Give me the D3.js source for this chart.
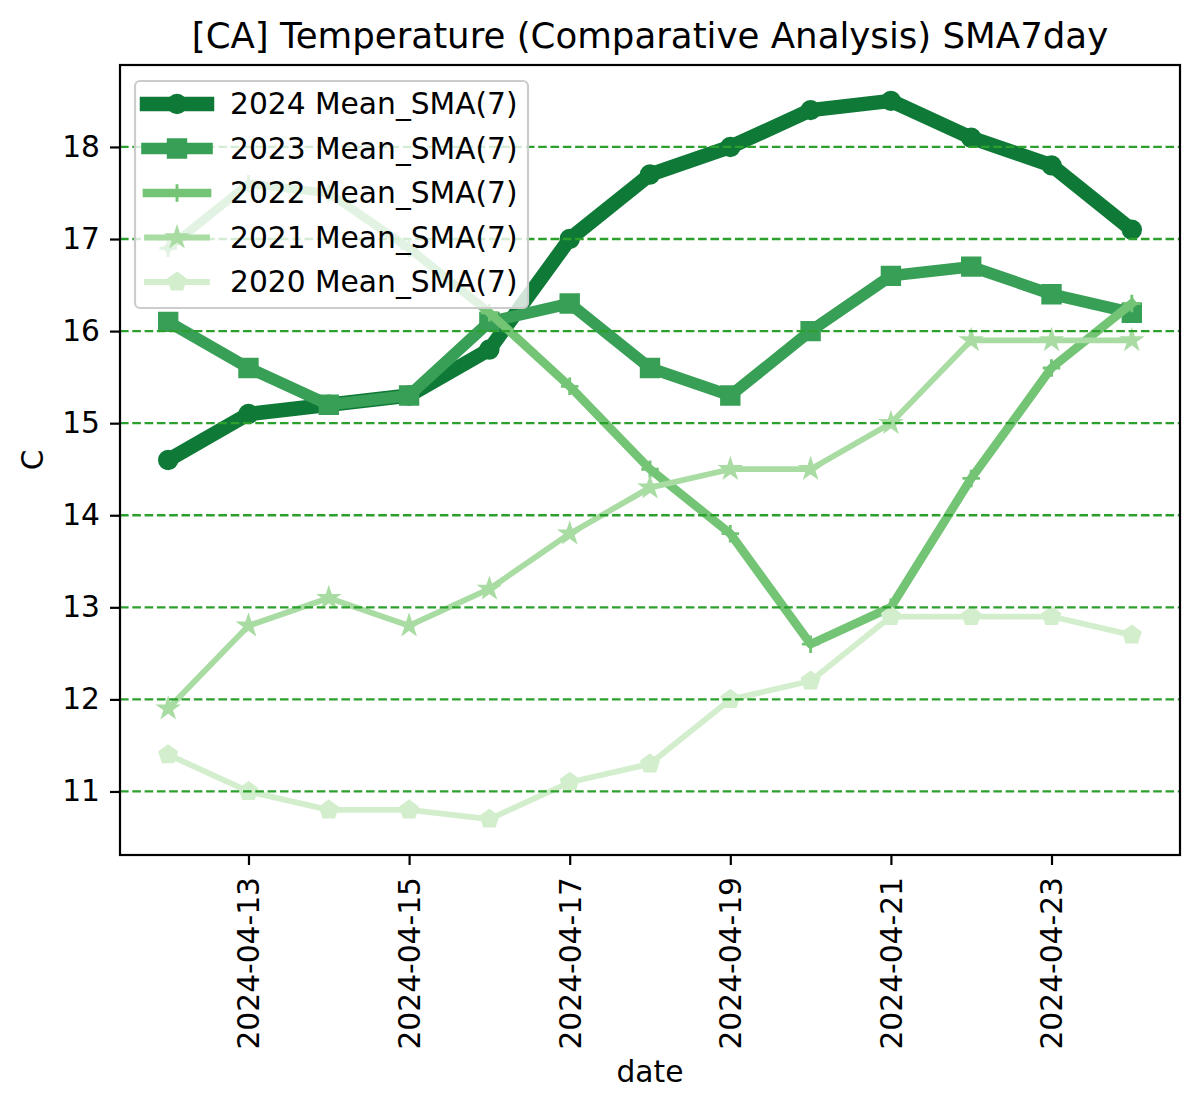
<!DOCTYPE html>
<html>
<head>
<meta charset="utf-8">
<script src="https://cdn.jsdelivr.net/npm/d3@7"></script>
<style>
  body { margin: 0; background: #fff; }
  svg { display: block; font-family: "DejaVu Sans", sans-serif; }
</style>
</head>
<body>
<svg id="chart" width="1200" height="1110"></svg>
<script>
const dates = ["2024-04-12","2024-04-13","2024-04-14","2024-04-15","2024-04-16","2024-04-17","2024-04-18","2024-04-19","2024-04-20","2024-04-21","2024-04-22","2024-04-23","2024-04-24"];
const s2024 = [14.6, 15.1, 15.2, 15.3, 15.8, 17.0, 17.7, 18.0, 18.4, 18.5, 18.1, 17.8, 17.1];
const s2023 = [16.1, 15.6, 15.2, 15.3, 16.1, 16.3, 15.6, 15.3, 16.0, 16.6, 16.7, 16.4, 16.2];
const s2022 = [16.9, 17.6, 17.5, 16.9, 16.2, 15.4, 14.5, 13.8, 12.6, 13.0, 14.4, 15.6, 16.3];
const s2021 = [11.9, 12.8, 13.1, 12.8, 13.2, 13.8, 14.3, 14.5, 14.5, 15.0, 15.9, 15.9, 15.9];
const s2020 = [11.4, 11.0, 10.8, 10.8, 10.7, 11.1, 11.3, 12.0, 12.2, 12.9, 12.9, 12.9, 12.7];
const seriesNames = ["2024 Mean_SMA(7)","2023 Mean_SMA(7)","2022 Mean_SMA(7)","2021 Mean_SMA(7)","2020 Mean_SMA(7)"];
const yTicks = [11, 12, 13, 14, 15, 16, 17, 18];
const xTickLabels = ["2024-04-13","2024-04-15","2024-04-17","2024-04-19","2024-04-21","2024-04-23"];
const titleText = "[CA] Temperature (Comparative Analysis) SMA7day";

const seriesValues = [s2024, s2023, s2022, s2021, s2020];
const styles = [
  {color: "#0f7a37", lw: 14.5, marker: "circle"},
  {color: "#389f56", lw: 11.6, marker: "square"},
  {color: "#74c476", lw: 8.7, marker: "plus"},
  {color: "#a9dca3", lw: 5.8, marker: "star"},
  {color: "#d3eecd", lw: 5.8, marker: "pentagon"}
];

const svg = d3.select("#chart");
const L = 120, R = 1180, T = 65, B = 855;
const parse = d3.utcParse("%Y-%m-%d");
const pd = dates.map(parse);
const day = 86400000;
const x = d3.scaleUtc()
  .domain([new Date(pd[0].getTime() - 0.6 * day), new Date(pd[pd.length - 1].getTime() + 0.6 * day)])
  .range([L, R]);
const allV = seriesValues.flat();
const vmin = d3.min(allV), vmax = d3.max(allV), pad = (vmax - vmin) * 0.05;
const y = d3.scaleLinear().domain([vmin - pad, vmax + pad]).range([B, T]);

const ms = 17.5, mew = 2.9;
function markerPath(type) {
  const r = ms / 2;
  const p = d3.path();
  if (type === "circle") {
    p.arc(0, 0, r, 0, 2 * Math.PI);
  } else if (type === "square") {
    p.rect(-r, -r, 2 * r, 2 * r);
  } else if (type === "plus") {
    p.moveTo(-r, 0); p.lineTo(r, 0); p.moveTo(0, -r); p.lineTo(0, r);
  } else if (type === "star") {
    const inner = r * 0.381966;
    for (let i = 0; i < 10; i++) {
      const a = -Math.PI / 2 + i * Math.PI / 5;
      const rr = i % 2 === 0 ? r : inner;
      if (i === 0) p.moveTo(rr * Math.cos(a), rr * Math.sin(a)); else p.lineTo(rr * Math.cos(a), rr * Math.sin(a));
    }
    p.closePath();
  } else if (type === "pentagon") {
    for (let i = 0; i < 5; i++) {
      const a = -Math.PI / 2 + i * 2 * Math.PI / 5;
      if (i === 0) p.moveTo(r * Math.cos(a), r * Math.sin(a)); else p.lineTo(r * Math.cos(a), r * Math.sin(a));
    }
    p.closePath();
  }
  return p.toString();
}
function drawMarker(g, type, color, cx, cy) {
  const m = g.append("path").attr("d", markerPath(type))
    .attr("transform", `translate(${cx},${cy})`)
    .attr("stroke", color).attr("stroke-width", mew).attr("stroke-linejoin", "miter");
  if (type === "plus") m.attr("fill", "none"); else m.attr("fill", color);
}

// Series
const line = d3.line().x((d, i) => x(pd[i])).y(d => y(d));
const gS = svg.append("g");
seriesValues.forEach((vals, k) => {
  const st = styles[k];
  const g = gS.append("g");
  g.append("path").datum(vals).attr("d", line)
    .attr("fill", "none").attr("stroke", st.color).attr("stroke-width", st.lw)
    .attr("stroke-linejoin", "round").attr("stroke-linecap", "square");
  vals.forEach((v, i) => drawMarker(g, st.marker, st.color, x(pd[i]), y(v)));
});

// Grid (drawn on top of lines)
svg.append("g").selectAll("line").data(yTicks).join("line")
  .attr("x1", L).attr("x2", R).attr("y1", d => y(d)).attr("y2", d => y(d))
  .attr("stroke", "#2ca02c").attr("stroke-width", 2.3).attr("stroke-dasharray", "8.6,3.7");

// Axes
const fs = 29.7;
const yAxis = d3.axisLeft(y).tickValues(yTicks).tickSize(10).tickPadding(10).tickFormat(d3.format("d"));
const gy = svg.append("g").attr("transform", `translate(${L},0)`).call(yAxis);
gy.select(".domain").remove();
gy.selectAll(".tick line").attr("stroke", "#000").attr("stroke-width", 2.2);
gy.selectAll(".tick text").attr("font-size", fs).attr("font-family", "DejaVu Sans").attr("fill", "#000");

const xTickDates = xTickLabels.map(parse);
const xAxis = d3.axisBottom(x).tickValues(xTickDates).tickSize(10).tickPadding(10).tickFormat(d3.utcFormat("%Y-%m-%d"));
const gx = svg.append("g").attr("transform", `translate(0,${B})`).call(xAxis);
gx.select(".domain").remove();
gx.selectAll(".tick line").attr("stroke", "#000").attr("stroke-width", 2.2);
gx.selectAll(".tick text")
  .attr("font-size", fs).attr("font-family", "DejaVu Sans").attr("fill", "#000")
  .attr("transform", "rotate(-90)")
  .attr("text-anchor", "end")
  .attr("dy", "0.35em")
  .attr("x", -22).attr("y", 0);

// Frame
svg.append("rect").attr("x", L).attr("y", T).attr("width", R - L).attr("height", B - T)
  .attr("fill", "none").attr("stroke", "#000").attr("stroke-width", 2.2);

// Labels
svg.append("text").attr("x", (L + R) / 2).attr("y", 48).attr("text-anchor", "middle")
  .attr("font-size", 35.6).attr("fill", "#000").text(titleText);
svg.append("text").attr("x", (L + R) / 2).attr("y", 1082).attr("text-anchor", "middle")
  .attr("font-size", fs).attr("fill", "#000").text("date");
svg.append("text").attr("transform", `translate(43,${(T + B) / 2}) rotate(-90)`).attr("text-anchor", "middle")
  .attr("font-size", fs).attr("fill", "#000").text("C");

// Legend
const lg = svg.append("g");
lg.append("rect").attr("x", 135).attr("y", 81).attr("width", 393).attr("height", 227)
  .attr("rx", 5).attr("ry", 5)
  .attr("fill", "#fff").attr("fill-opacity", 0.8).attr("stroke", "#cccccc").attr("stroke-width", 2.2);
const rowY0 = 104, rowStep = 44.5;
seriesNames.forEach((name, k) => {
  const st = styles[k];
  const cy = rowY0 + k * rowStep;
  lg.append("line").attr("x1", 147).attr("x2", 207).attr("y1", cy).attr("y2", cy)
    .attr("stroke", st.color).attr("stroke-width", st.lw).attr("stroke-linecap", "square");
  drawMarker(lg, st.marker, st.color, 177, cy);
  lg.append("text").attr("x", 230).attr("y", cy).attr("dy", "0.35em")
    .attr("font-size", fs).attr("fill", "#000").text(name);
});
</script>
</body>
</html>
